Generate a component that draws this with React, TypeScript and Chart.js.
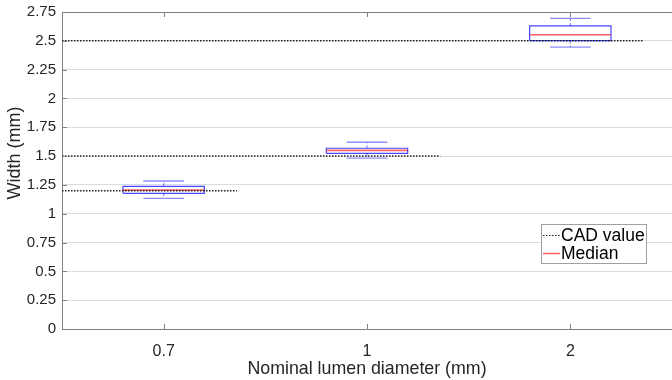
import React, { useEffect, useRef } from "react";
import { Chart, registerables } from "chart.js";

Chart.register(...registerables);

const categories = ["0.7", "1", "2"];
const cadValues = [1.2, 1.5, 2.5];
const medians = [1.205, 1.55, 2.553];
const q1 = [1.177, 1.524, 2.501];
const q3 = [1.238, 1.568, 2.629];
const whiskerLow = [1.134, 1.483, 2.446];
const whiskerHigh = [1.284, 1.62, 2.695];
const yTicks = [0, 0.25, 0.5, 0.75, 1, 1.25, 1.5, 1.75, 2, 2.25, 2.5, 2.75];
const legendLabels = ["CAD value", "Median"];

const FONT = "'Liberation Sans', Arial, Helvetica, sans-serif";
const BOX_HALF = 0.2;
const CAP_HALF = 0.1;
const CAD_EXT = 0.36;

const BOX_COLOR = "rgba(0,0,255,0.72)";
const WHISK_COLOR = "rgba(0,0,255,0.45)";
const MED_COLOR = "rgba(255,0,0,0.6)";
const CAD_COLOR = "#222222";
const AXIS_COLOR = "#808080";

function line(points: { x: number; y: number }[], color: string, width: number, dash: number[] = []) {
  return {
    data: points,
    showLine: true,
    borderColor: color,
    backgroundColor: color,
    borderWidth: width,
    borderDash: dash,
    pointRadius: 0,
    pointHoverRadius: 0,
    fill: false,
    tension: 0,
  };
}

function buildDatasets() {
  const cad: any[] = [];
  const med: any[] = [];
  const boxes: any[] = [];
  const whisk: any[] = [];
  categories.forEach((_, i) => {
    const cx = i + 1;
    cad.push(line([{ x: 0.5, y: cadValues[i] }, { x: cx + CAD_EXT, y: cadValues[i] }], CAD_COLOR, 1.5, [1.5, 1.5]));
    med.push(line([{ x: cx - BOX_HALF, y: medians[i] }, { x: cx + BOX_HALF, y: medians[i] }], MED_COLOR, 1.6));
    boxes.push(
      line(
        [
          { x: cx - BOX_HALF, y: q1[i] },
          { x: cx + BOX_HALF, y: q1[i] },
          { x: cx + BOX_HALF, y: q3[i] },
          { x: cx - BOX_HALF, y: q3[i] },
          { x: cx - BOX_HALF, y: q1[i] },
        ],
        BOX_COLOR,
        1.2
      )
    );
    whisk.push(line([{ x: cx, y: q3[i] }, { x: cx, y: whiskerHigh[i] }], WHISK_COLOR, 1.2, [3, 2]));
    whisk.push(line([{ x: cx, y: q1[i] }, { x: cx, y: whiskerLow[i] }], WHISK_COLOR, 1.2, [3, 2]));
    whisk.push(line([{ x: cx - CAP_HALF, y: whiskerHigh[i] }, { x: cx + CAP_HALF, y: whiskerHigh[i] }], WHISK_COLOR, 1.3));
    whisk.push(line([{ x: cx - CAP_HALF, y: whiskerLow[i] }, { x: cx + CAP_HALF, y: whiskerLow[i] }], WHISK_COLOR, 1.3));
  });
  return [...cad, ...med, ...boxes, ...whisk];
}

const decorPlugin = {
  id: "decor",
  afterDraw(chart: any) {
    const { ctx, chartArea } = chart;
    const { left, right, top, bottom } = chartArea;
    const xs = chart.scales.x;
    const ys = chart.scales.y;
    ctx.save();
    ctx.strokeStyle = AXIS_COLOR;
    ctx.lineWidth = 1;
    ctx.beginPath();
    ctx.moveTo(left, Math.round(top) + 0.5);
    ctx.lineTo(right, Math.round(top) + 0.5);
    ctx.stroke();
    ctx.beginPath();
    ys.ticks.forEach((t: any) => {
      const y = Math.round(ys.getPixelForValue(t.value)) + 0.5;
      ctx.moveTo(left, y);
      ctx.lineTo(left + 5, y);
    });
    xs.ticks.forEach((t: any) => {
      const x = Math.round(xs.getPixelForValue(t.value)) + 0.5;
      ctx.moveTo(x, bottom);
      ctx.lineTo(x, bottom - 5);
      ctx.moveTo(x, top);
      ctx.lineTo(x, top + 5);
    });
    ctx.stroke();

    ctx.fillStyle = "#262626";
    ctx.font = `18px ${FONT}`;
    ctx.textAlign = "center";
    ctx.textBaseline = "middle";
    ctx.translate(15, 153);
    ctx.rotate(-Math.PI / 2);
    ctx.fillText("Width (mm)", 0, 0);
    ctx.restore();

    ctx.save();
    const lx = 541.5, ly = 224.5, lw = 105, lh = 39;
    ctx.fillStyle = "#ffffff";
    ctx.fillRect(lx, ly, lw, lh);
    ctx.strokeStyle = "#a0a0a0";
    ctx.lineWidth = 1;
    ctx.strokeRect(lx, ly, lw, lh);
    ctx.font = `17.5px ${FONT}`;
    ctx.textAlign = "left";
    ctx.textBaseline = "middle";
    const rows = [
      { y: 235, color: CAD_COLOR, dash: [1.5, 1.5], w: 1.2 },
      { y: 253, color: MED_COLOR, dash: [], w: 1.6 },
    ];
    rows.forEach((r, i) => {
      ctx.beginPath();
      ctx.strokeStyle = r.color;
      ctx.lineWidth = r.w;
      ctx.setLineDash(r.dash);
      ctx.moveTo(543, r.y + 0.5);
      ctx.lineTo(560, r.y + 0.5);
      ctx.stroke();
      ctx.setLineDash([]);
      ctx.fillStyle = "#000000";
      ctx.fillText(legendLabels[i], 561, r.y + 1);
    });
    ctx.restore();
  },
};

export default function App() {
  const ref = useRef<HTMLCanvasElement | null>(null);
  useEffect(() => {
    const canvas = ref.current;
    if (!canvas) return;
    const chart = new Chart(canvas, {
      type: "scatter",
      data: { datasets: buildDatasets() as any },
      options: {
        responsive: false,
        animation: false,
        devicePixelRatio: 1,
        layout: { padding: { top: 12, right: 0, left: 0, bottom: 0 } },
        plugins: { legend: { display: false }, tooltip: { enabled: false } },
        events: [],
        scales: {
          x: {
            type: "linear",
            min: 0.5,
            max: 3.5,
            afterBuildTicks: (s: any) => {
              s.ticks = categories.map((_, i) => ({ value: i + 1 }));
            },
            afterFit: (s: any) => {
              s.height = 51;
              s.paddingLeft = 0;
              s.paddingRight = 0;
            },
            grid: { display: false, drawTicks: false },
            border: { display: true, color: AXIS_COLOR, width: 1 },
            ticks: {
              padding: 13,
              color: "#262626",
              font: { family: FONT, size: 16 },
              callback: (v: any) => categories[Math.round(Number(v)) - 1] ?? "",
            },
            title: {
              display: true,
              text: "Nominal lumen diameter (mm)",
              color: "#262626",
              font: { family: FONT, size: 17.8 },
              padding: { top: 0, bottom: 0 },
            },
          },
          y: {
            type: "linear",
            min: 0,
            max: 2.75,
            afterBuildTicks: (s: any) => {
              s.ticks = yTicks.map((v) => ({ value: v }));
            },
            afterFit: (s: any) => {
              s.width = 62;
              s.paddingTop = 0;
              s.paddingBottom = 0;
            },
            grid: { color: "#dcdcdc", drawTicks: false, lineWidth: 1 },
            border: { display: true, color: AXIS_COLOR, width: 1 },
            ticks: {
              padding: 6,
              color: "#262626",
              font: { family: FONT, size: 15 },
              callback: (v: any) => String(v),
            },
          },
        },
      },
      plugins: [decorPlugin],
    });
    return () => chart.destroy();
  }, []);
  return (
    <div style={{ position: "fixed", left: 0, top: 0, width: 672, height: 380, background: "#fff" }}>
      <canvas ref={ref} width={672} height={380} />
    </div>
  );
}
